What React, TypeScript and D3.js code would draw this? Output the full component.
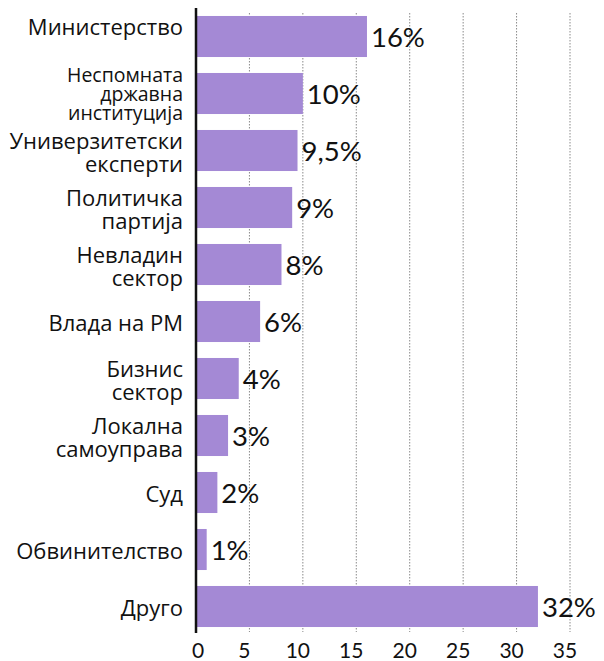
import React from "react";
import * as d3 from "d3";

const categories: string[][] = [
  ["Министерство", ""],
  ["Неспомната", "државна", "институција"],
  ["Универзитетски", "експерти"],
  ["Политичка", "партија"],
  ["Невладин", "сектор"],
  ["Влада на РМ"],
  ["Бизнис", "сектор"],
  ["Локална", "самоуправа"],
  ["Суд"],
  ["Обвинителство"],
  ["Друго"],
];
const values: number[] = [16, 10, 9.5, 9, 8, 6, 4, 3, 2, 1, 32];
const valueLabels: string[] = ["16%", "10%", "9,5%", "9%", "8%", "6%", "4%", "3%", "2%", "1%", "32%"];
const tickValues: number[] = [0, 5, 10, 15, 20, 25, 30, 35];

const W = 604;
const H = 661;

export default function App() {
  const x = d3.scaleLinear().domain([0, 35]).range([196, 570]);
  const idx = values.map((_, i) => String(i));
  const y = d3.scaleBand().domain(idx).range([8, 635]).paddingInner(0.28).paddingOuter(0.14);
  const bw = y.bandwidth();

  return (
    <svg
      width={W}
      height={H}
      style={{ position: "absolute", left: 0, top: 0, background: "#fff" }}
    >
      {tickValues.filter((t) => t > 0).map((t) => (
        <line
          key={"g" + t}
          x1={x(t)}
          x2={x(t)}
          y1={13}
          y2={632}
          stroke="#8a8a8a"
          strokeWidth={1}
          strokeDasharray="1.5,1.5"
        />
      ))}
      {values.map((v, i) => (
        <rect
          key={"b" + i}
          x={x(0)}
          y={y(String(i))}
          width={x(v) - x(0)}
          height={bw}
          fill="#a489d5"
        />
      ))}
      {values.map((v, i) => (
        <text
          key={"v" + i}
          x={x(v) + 4}
          y={(y(String(i)) as number) + bw / 2 + 10}
          fontFamily="Lato"
          fontSize={27.5}
          fill="#111"
        >
          {valueLabels[i]}
        </text>
      ))}
      {categories.map((lines, i) => {
        const c = (y(String(i)) as number) + bw / 2;
        const small = lines.length > 2;
        const lh = small ? 19 : 23;
        const fs = small ? 19.5 : 22;
        const off = small ? 7.5 : 9.5;
        return (
          <text
            key={"c" + i}
            textAnchor="end"
            fontFamily="'Open Sans'"
            fontSize={fs}
            fill="#111"
          >
            {lines.map((l, k) => (
              <tspan key={k} x={183} y={c + (k - (lines.length - 1) / 2) * lh + off}>
                {l}
              </tspan>
            ))}
          </text>
        );
      })}
      <line x1={x(0)} x2={x(0)} y1={8} y2={633} stroke="#111" strokeWidth={2.5} />
      {tickValues.map((t) => (
        <text
          key={"t" + t}
          x={x(t) - (t === 0 ? -2 : 5)}
          y={658}
          textAnchor="middle"
          fontFamily="Lato"
          fontSize={21}
          fill="#111"
        >
          {t}
        </text>
      ))}
    </svg>
  );
}
